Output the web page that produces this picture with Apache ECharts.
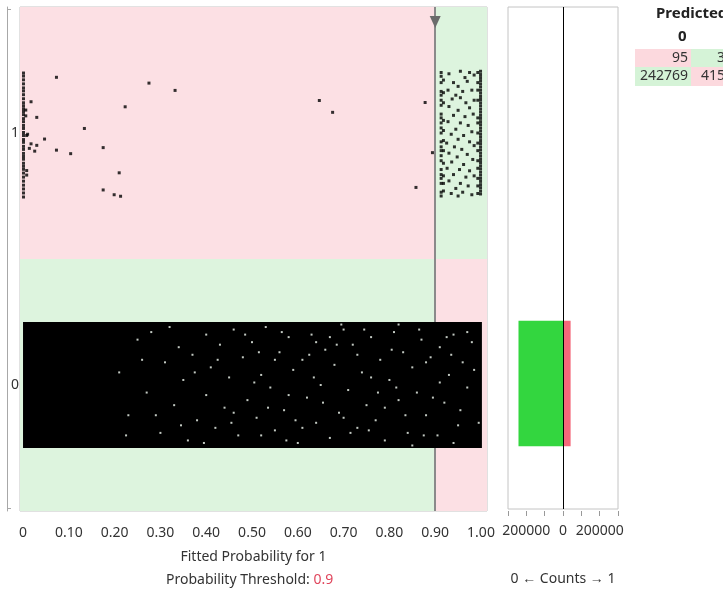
<!DOCTYPE html>
<html>
<head>
<meta charset="utf-8">
<script src="https://cdn.jsdelivr.net/npm/echarts@6/dist/echarts.min.js"></script>
<style>html,body{margin:0;padding:0;background:#fff;}#c{width:723px;height:591px;}</style>
</head>
<body>
<div id="c"></div>
<script>
// ---------- data ----------
const classCategories = ['0', '1'];
const threshold = 0.9;
const xTickValues = [0,0.05,0.1,0.15,0.2,0.25,0.3,0.35,0.4,0.45,0.5,0.55,0.6,0.65,0.7,0.75,0.8,0.85,0.9,0.95,1];
const xTickLabels = [0,0.1,0.2,0.3,0.4,0.5,0.6,0.7,0.8,0.9,1];
const countTickLabels = [-200000, 0, 200000];
// counts by actual class [0, 1]
const countsPredicted0 = [242769, 95];
const countsPredicted1 = [41532, 342];
// class 0 jitter band (too dense to draw individually): [xStart, xEnd, yLow, yHigh]
const class0Band = [[0, 1.002, -0.25, 0.25]];
// light gaps visible inside the dense class 0 band
const class0Gaps = [[0.21,0.05],[0.23,-0.12],[0.25,0.18],[0.27,-0.03],[0.28,0.21],[0.30,-0.19],[0.31,0.09],[0.33,-0.08],[0.34,0.15],[0.35,0.02],[0.36,-0.22],[0.37,0.12],[0.38,-0.14],[0.40,0.2],[0.40,-0.04],[0.41,0.07],[0.42,-0.17],[0.43,0.16],[0.44,-0.09],[0.45,0.03],[0.46,0.22],[0.47,-0.2],[0.48,0.11],[0.49,-0.06],[0.50,0.17],[0.51,-0.13],[0.52,0.04],[0.53,0.23],[0.54,-0.01],[0.55,-0.18],[0.56,0.13],[0.57,-0.1],[0.58,0.19],[0.59,0.06],[0.60,-0.23],[0.61,0.1],[0.62,-0.05],[0.63,0.2],[0.64,-0.15],[0.65,0.0],[0.66,0.14],[0.67,-0.21],[0.68,0.08],[0.69,-0.11],[0.70,0.22],[0.71,-0.02],[0.72,0.16],[0.73,-0.17],[0.74,0.05],[0.75,-0.08],[0.76,0.19],[0.77,-0.14],[0.78,0.1],[0.79,-0.22],[0.80,0.02],[0.81,0.21],[0.82,-0.06],[0.83,0.13],[0.84,-0.19],[0.85,0.07],[0.86,-0.03],[0.87,0.18],[0.88,-0.12],[0.89,0.11],[0.905,-0.2],[0.91,0.15],[0.92,-0.07],[0.93,0.04],[0.94,0.2],[0.95,-0.16],[0.96,0.09],[0.97,-0.01],[0.98,0.17],[0.46,-0.11],[0.52,-0.2],[0.58,-0.04],[0.64,0.17],[0.70,-0.13],[0.76,0.03],[0.82,0.24],[0.88,0.09],[0.94,-0.23],[0.55,0.1],[0.61,-0.17],[0.67,0.19],[0.73,0.12],[0.79,-0.09],[0.85,-0.24],[0.91,0.01],[0.97,0.21],
[0.225,-0.2],[0.26,0.1],[0.29,-0.12],[0.32,0.23],[0.345,-0.16],[0.375,0.05],[0.395,-0.23],[0.425,0.1],[0.455,-0.15],[0.485,0.2],[0.505,0.01],[0.535,-0.09],[0.565,0.21],[0.595,-0.14],[0.625,0.12],[0.655,-0.07],[0.685,0.16],[0.715,-0.19],[0.745,0.22],[0.775,-0.03],[0.805,0.14],[0.835,-0.12],[0.865,0.22],[0.895,-0.05],[0.925,0.19],[0.955,-0.1],[0.985,0.06],[0.515,0.13],[0.575,-0.22],[0.635,0.03],[0.695,0.24],[0.755,-0.18],[0.815,-0.01],[0.875,-0.2],[0.935,0.12],[0.995,-0.15]];
// class 1 points: [fitted probability, jittered class position]
const class1Points = [
// column near 0
[0.001,1.238],[0.001,1.226],[0.001,1.211],[0.001,1.195],[0.001,1.179],[0.001,1.167],[0.001,1.152],[0.001,1.136],[0.001,1.120],[0.001,1.108],[0.001,1.096],[0.001,1.085],[0.001,1.073],[0.001,1.057],[0.001,1.045],[0.001,1.030],[0.001,1.018],[0.001,1.002],[0.001,0.990],[0.001,0.974],[0.001,0.963],[0.001,0.947],[0.001,0.935],[0.001,0.919],[0.001,0.907],[0.001,0.896],[0.001,0.880],[0.001,0.868],[0.001,0.856],[0.001,0.841],[0.001,0.825],[0.001,0.809],[0.001,0.793],[0.001,0.778],[0.001,0.762],[0.001,0.746],
// sparse predicted-0 points
[0.073,1.221],[0.275,1.198],[0.332,1.169],[0.0175,1.124],[0.223,1.104],[0.030,1.062],[0.134,1.018],[0.047,0.976],[0.0175,0.957],[0.030,0.951],[0.0138,0.939],[0.0255,0.928],[0.073,0.932],[0.104,0.918],[0.175,0.942],[0.210,0.842],[0.175,0.774],[0.199,0.755],[0.213,0.749],[0.008,0.851],[0.008,0.833],[0.006,1.091],[0.006,1.068],[0.008,0.99],[0.010,0.995],[0.647,1.129],[0.676,1.082],[0.878,1.121],[0.894,0.922],[0.858,0.784],
// cluster above threshold: left edge
[0.913,1.24],[0.913,1.225],[0.913,1.20],[0.913,1.165],[0.913,1.15],[0.913,1.13],[0.913,1.11],[0.913,1.075],[0.913,1.06],[0.913,1.04],[0.913,1.02],[0.913,1.00],[0.913,0.965],[0.913,0.945],[0.913,0.93],[0.913,0.91],[0.913,0.89],[0.913,0.855],[0.913,0.835],[0.913,0.82],[0.913,0.80],[0.913,0.765],[0.913,0.75],
[0.918,1.21],[0.918,1.16],[0.918,1.12],[0.918,1.05],[0.918,1.01],[0.918,0.97],[0.918,0.93],[0.918,0.88],[0.918,0.83],[0.918,0.80],[0.918,0.77],
// cluster: right edge
[0.999,1.245],[0.999,1.232],[0.999,1.22],[0.999,1.208],[0.999,1.195],[0.999,1.183],[0.999,1.17],[0.999,1.158],[0.999,1.145],[0.999,1.133],[0.999,1.12],[0.999,1.108],[0.999,1.095],[0.999,1.083],[0.999,1.07],[0.999,1.058],[0.999,1.045],[0.999,1.033],[0.999,1.02],[0.999,1.008],[0.999,0.995],[0.999,0.983],[0.999,0.97],[0.999,0.958],[0.999,0.945],[0.999,0.933],[0.999,0.92],[0.999,0.908],[0.999,0.895],[0.999,0.883],[0.999,0.87],[0.999,0.858],[0.999,0.845],[0.999,0.833],[0.999,0.82],[0.999,0.808],[0.999,0.795],[0.999,0.783],[0.999,0.77],[0.999,0.758],
[0.993,1.24],[0.993,1.20],[0.993,1.17],[0.993,1.13],[0.993,1.06],[0.993,1.04],[0.993,1.00],[0.993,0.96],[0.993,0.93],[0.993,0.89],[0.993,0.86],[0.993,0.82],[0.993,0.79],[0.993,0.76],
// cluster: interior
[0.93,1.235],[0.955,1.245],[0.975,1.24],[0.985,1.23],[0.965,1.22],[0.94,1.2],[0.97,1.205],[0.95,1.185],[0.928,1.17],[0.96,1.165],[0.98,1.17],[0.945,1.15],[0.937,1.135],[0.955,1.14],[0.967,1.12],[0.985,1.13],[0.93,1.105],[0.975,1.10],[0.95,1.09],[0.94,1.07],[0.965,1.065],[0.983,1.075],[0.928,1.045],[0.955,1.04],[0.972,1.03],[0.945,1.015],[0.98,1.005],[0.935,0.995],[0.962,0.99],[0.95,0.975],[0.925,0.96],[0.975,0.965],[0.942,0.945],[0.985,0.95],[0.958,0.935],[0.93,0.92],[0.97,0.915],[0.948,0.905],[0.982,0.895],[0.936,0.885],[0.962,0.875],[0.926,0.86],[0.953,0.855],[0.975,0.85],[0.94,0.835],[0.967,0.825],[0.985,0.83],[0.93,0.81],[0.955,0.8],[0.945,0.78],[0.972,0.79],[0.96,0.765],[0.935,0.76],[0.98,0.755],[0.95,0.75]
];

// ---------- style ----------
const FONT = 'Noto Sans';
const PINK = '#fce0e4';
const GREEN = '#ddf4de';
const BAR_GREEN = '#33d63f';
const BAR_RED = '#f4687a';
const TXT = '#333';

const chart = echarts.init(document.getElementById('c'), null, {renderer: 'canvas'});

const option = {
  animation: false,
  textStyle: {fontFamily: FONT},
  grid: [
    {left: 20, top: 7, width: 467, height: 504, show: true, borderColor: '#c4c4c4', borderWidth: 1, backgroundColor: 'transparent'},
    {left: 508, top: 7, width: 110, height: 504, show: true, borderColor: '#c4c4c4', borderWidth: 1}
  ],
  xAxis: [
    {
      gridIndex: 0, type: 'value', min: -0.0066, max: 1.0131, offset: 2,
      axisLine: {show: false},
      splitLine: {show: false},
      axisTick: {show: true, customValues: xTickValues, length: 5, lineStyle: {color: '#999'}},
      axisLabel: {customValues: xTickLabels, margin: 13, color: TXT, fontSize: 14, fontFamily: FONT,
        formatter: v => (Math.abs(v) < 1e-9 ? '0' : v.toFixed(2))},
      name: 'Fitted Probability for 1', nameLocation: 'middle', nameGap: 37,
      nameTextStyle: {color: TXT, fontSize: 14, fontFamily: FONT}
    },
    {
      gridIndex: 1, type: 'value', min: -300000, max: 300000, interval: 100000, offset: 2,
      axisLine: {show: false},
      splitLine: {show: false},
      axisTick: {show: true, length: 5, lineStyle: {color: '#999'}},
      axisLabel: {customValues: countTickLabels, margin: 13, color: TXT, fontSize: 14, fontFamily: FONT,
        formatter: v => String(Math.abs(v))},
      name: '0 \u2190 Counts \u2192 1', nameLocation: 'middle', nameGap: 61,
      nameTextStyle: {color: TXT, fontSize: 14, fontFamily: FONT}
    }
  ],
  yAxis: [
    {
      gridIndex: 0, type: 'value', min: -0.5, max: 1.5, offset: 13,
      axisLine: {show: true, onZero: false, lineStyle: {color: '#a8a8a8', width: 1}},
      splitLine: {show: false},
      axisTick: {show: true, inside: true, length: 4, customValues: [-0.49, 1.49], lineStyle: {color: '#a8a8a8'}},
      axisLabel: {inside: true, margin: 4, customValues: [0, 1], color: TXT, fontSize: 14, fontFamily: FONT,
        formatter: v => classCategories[Math.round(v)]}
    },
    {
      gridIndex: 1, type: 'category', data: classCategories,
      axisLine: {show: false}, axisTick: {show: false}, axisLabel: {show: false}, splitLine: {show: false}
    }
  ],
  series: [
    {
      // background regions
      type: 'scatter', xAxisIndex: 0, yAxisIndex: 0, data: [], z: 1, silent: true,
      markArea: {
        silent: true,
        data: [
          [{coord: [-0.0066, 0.5], itemStyle: {color: PINK}}, {coord: [threshold, 1.5]}],
          [{coord: [threshold, 0.5], itemStyle: {color: GREEN}}, {coord: [1.0131, 1.5]}],
          [{coord: [-0.0066, -0.5], itemStyle: {color: GREEN}}, {coord: [threshold, 0.5]}],
          [{coord: [threshold, -0.5], itemStyle: {color: PINK}}, {coord: [1.0131, 0.5]}]
        ]
      }
    },
    {
      // threshold line + marker
      type: 'scatter', xAxisIndex: 0, yAxisIndex: 0, data: [], z: 2, silent: true,
      markLine: {
        silent: true, symbol: 'none', label: {show: false},
        lineStyle: {color: '#8a8a8a', width: 2, type: 'solid'},
        data: [{xAxis: threshold}]
      },
      markPoint: {
        silent: true,
        data: [{coord: [threshold, 1.44], symbol: 'triangle', symbolSize: [11, 12], symbolRotate: 180, itemStyle: {color: '#6b6b6b'}, label: {show: false}}]
      }
    },
    {
      // dense class 0 band
      type: 'custom', xAxisIndex: 0, yAxisIndex: 0, z: 10, silent: true,
      data: class0Band,
      renderItem: (params, api) => {
        const p1 = api.coord([api.value(0), api.value(3)]);
        const p2 = api.coord([api.value(1), api.value(2)]);
        return {type: 'rect', z2: 10, shape: {x: p1[0], y: p1[1], width: p2[0] - p1[0], height: p2[1] - p1[1]}, style: {fill: '#000'}};
      }
    },
    {
      type: 'scatter', xAxisIndex: 0, yAxisIndex: 0, z: 11, silent: true,
      data: class0Gaps, symbol: 'rect', symbolSize: 2, itemStyle: {color: '#f2fbf2'}
    },
    {
      type: 'scatter', xAxisIndex: 0, yAxisIndex: 0, z: 12, silent: true,
      data: class1Points, symbol: 'rect', symbolSize: 3, itemStyle: {color: '#000'}
    },
    {
      // counts: predicted 0 (drawn to the left)
      type: 'bar', xAxisIndex: 1, yAxisIndex: 1, barWidth: '50%', barGap: '-100%',
      data: countsPredicted0.map((v, i) => ({value: -v, itemStyle: {color: i === 0 ? BAR_GREEN : BAR_RED}})),
      markLine: {
        silent: true, symbol: 'none', label: {show: false},
        lineStyle: {color: '#000', width: 1, type: 'solid'},
        data: [{xAxis: 0}]
      }
    },
    {
      // counts: predicted 1 (drawn to the right)
      type: 'bar', xAxisIndex: 1, yAxisIndex: 1, barWidth: '50%', barGap: '-100%',
      data: countsPredicted1.map((v, i) => ({value: v, itemStyle: {color: i === 0 ? BAR_RED : BAR_GREEN}}))
    }
  ],
  graphic: [
    {type: 'text', left: 251 - 85, top: 573, style: {
      text: '{a|Probability Threshold: }{b|' + threshold + '}',
      rich: {a: {fontSize: 14, fill: TXT, fontFamily: FONT}, b: {fontSize: 14, fill: '#e0455c', fontFamily: FONT}}
    }},
    // confusion table
    {type: 'text', left: 656, top: 6, style: {text: 'Predicted', fontSize: 15, fontWeight: 'bold', fill: '#222', fontFamily: FONT}},
    {type: 'text', left: 678, top: 29, style: {text: classCategories[0], fontSize: 15, fontWeight: 'bold', fill: '#222', fontFamily: FONT}},
    {type: 'rect', shape: {x: 635, y: 49, width: 56, height: 18}, style: {fill: '#fcd9de'}},
    {type: 'rect', shape: {x: 691, y: 49, width: 40, height: 18}, style: {fill: '#d5f3d7'}},
    {type: 'rect', shape: {x: 635, y: 67, width: 56, height: 19}, style: {fill: '#d5f3d7'}},
    {type: 'rect', shape: {x: 691, y: 67, width: 40, height: 19}, style: {fill: '#fcd9de'}},
    {type: 'text', x: 688, y: 58, style: {text: String(countsPredicted0[1]), align: 'right', verticalAlign: 'middle', fontSize: 14, fill: TXT, fontFamily: FONT}},
    {type: 'text', x: 741, y: 58, style: {text: String(countsPredicted1[1]), align: 'right', verticalAlign: 'middle', fontSize: 14, fill: TXT, fontFamily: FONT}},
    {type: 'text', x: 688, y: 76, style: {text: String(countsPredicted0[0]), align: 'right', verticalAlign: 'middle', fontSize: 14, fill: TXT, fontFamily: FONT}},
    {type: 'text', x: 741, y: 76, style: {text: String(countsPredicted1[0]), align: 'right', verticalAlign: 'middle', fontSize: 14, fill: TXT, fontFamily: FONT}}
  ]
};
chart.setOption(option);
</script>
</body>
</html>
